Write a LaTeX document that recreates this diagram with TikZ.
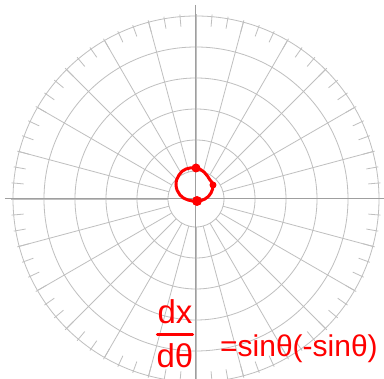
\documentclass[tikz,border=0pt]{standalone}
\usepackage{fontspec}
\newfontfamily\handfont{Liberation Sans}
\usepackage{tikz}

\begin{document}
\begin{tikzpicture}[x=1pt, y=1pt]
\tikzstyle{gridline}=[draw=gray!50, line width=0.8pt]
\tikzstyle{axisline}=[draw=gray!75, line width=1pt]
\tikzstyle{hand}=[text=red, inner sep=0pt, font=\handfont\fontsize{30}{30}\selectfont]
\tikzstyle{fracpart}=[hand, font=\handfont\fontsize{33}{33}\selectfont, anchor=base]
\tikzstyle{inkline}=[draw=red, line width=3pt, line cap=round, line join=round]
\useasboundingbox[fill=white] (-196,-180) rectangle (188,199);
\begin{scope}
\clip (-196,-180) rectangle (188,199);
\foreach \r in {28,59,90,121,152,183}
  \draw[gridline] (0,0) circle (\r);
\foreach \a in {15,30,...,345}
  \draw[gridline] (\a:28) -- (\a:183);
\foreach \a in {5,10,...,355}
  \draw[gridline] (\a:173) -- (\a:185);
\draw[axisline] (-191,0) -- (188,0);
\draw[axisline] (0,194) -- (0,-180);
\draw[inkline] plot[smooth cycle, tension=0.7] coordinates {(-10,30) (0,31) (8,27) (14,19) (17,14) (15,6) (9,0) (1,-2) (-8,-1) (-16,4) (-20,14) (-17,24)};
\fill[red] (0,31) circle (4.5);
\fill[red] (17,14) circle (3.5);
\fill[red] (1,-2) circle (5);
\end{scope}
\node[fracpart] (num) at (-21,-125) {dx};
\draw[inkline] ([yshift=-11pt]num.base west) -- ([yshift=-11pt]num.base east);
\node[fracpart] (den) at (-21,-169) {dθ};
\node[hand, anchor=base west] (rhs) at (24,-158) {=sinθ(-sinθ)};
\end{tikzpicture}
\end{document}
